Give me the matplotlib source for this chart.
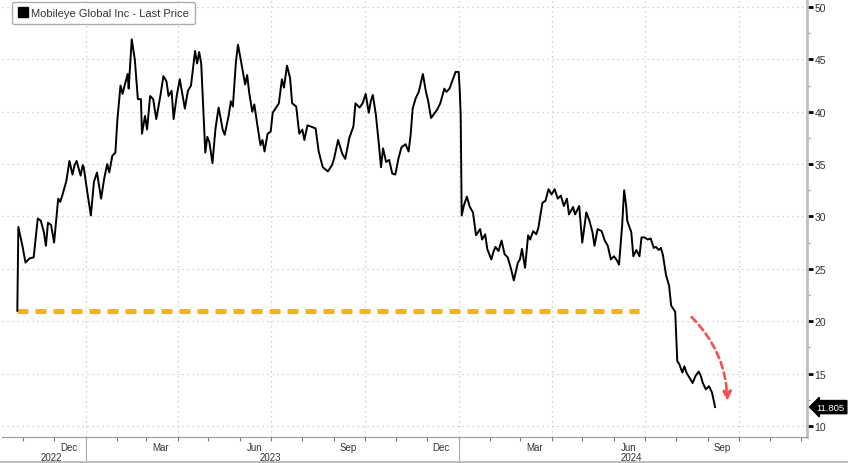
import matplotlib
matplotlib.use("Agg")
import matplotlib.pyplot as plt
import matplotlib.dates as mdates
import matplotlib.transforms as mtransforms
from matplotlib.lines import Line2D
from matplotlib.ticker import MultipleLocator, NullFormatter
import pandas as pd

plt.rcParams['font.family'] = ['Liberation Sans', 'DejaVu Sans']

# Mobileye last price
dates = [
    "2022-10-26", "2022-10-27", "2022-10-31", "2022-11-03", "2022-11-07", "2022-11-11",
    "2022-11-15", "2022-11-18", "2022-11-21", "2022-11-23", "2022-11-25", "2022-11-28",
    "2022-12-01", "2022-12-05", "2022-12-07", "2022-12-09", "2022-12-13", "2022-12-16",
    "2022-12-19", "2022-12-21", "2022-12-23", "2022-12-27", "2022-12-29", "2022-12-30",
    "2023-01-03", "2023-01-06", "2023-01-09", "2023-01-12", "2023-01-16", "2023-01-19",
    "2023-01-22", "2023-01-24", "2023-01-27", "2023-01-30", "2023-02-01", "2023-02-04",
    "2023-02-06", "2023-02-08", "2023-02-11", "2023-02-12", "2023-02-15", "2023-02-18",
    "2023-02-21", "2023-02-24", "2023-02-25", "2023-02-28", "2023-03-02", "2023-03-05",
    "2023-03-08", "2023-03-11", "2023-03-15", "2023-03-18", "2023-03-21", "2023-03-23",
    "2023-03-26", "2023-03-28", "2023-03-31", "2023-04-03", "2023-04-05", "2023-04-08",
    "2023-04-11", "2023-04-14", "2023-04-18", "2023-04-20", "2023-04-22", "2023-04-24",
    "2023-04-28", "2023-04-30", "2023-05-02", "2023-05-05", "2023-05-08", "2023-05-11",
    "2023-05-13", "2023-05-15", "2023-05-17", "2023-05-21", "2023-05-23", "2023-05-25",
    "2023-05-28", "2023-05-30", "2023-06-02", "2023-06-06", "2023-06-08", "2023-06-10",
    "2023-06-13", "2023-06-15", "2023-06-18", "2023-06-21", "2023-06-23", "2023-06-25",
    "2023-06-28", "2023-07-01", "2023-07-03", "2023-07-07", "2023-07-09", "2023-07-12",
    "2023-07-14", "2023-07-17", "2023-07-20", "2023-07-22", "2023-07-26", "2023-07-29",
    "2023-08-01", "2023-08-03", "2023-08-06", "2023-08-09", "2023-08-14", "2023-08-17",
    "2023-08-21", "2023-08-26", "2023-08-30", "2023-09-01", "2023-09-05", "2023-09-09",
    "2023-09-12", "2023-09-16", "2023-09-20", "2023-09-22", "2023-09-26", "2023-09-29",
    "2023-10-02", "2023-10-05", "2023-10-07", "2023-10-09", "2023-10-12", "2023-10-15",
    "2023-10-17", "2023-10-19", "2023-10-22", "2023-10-25", "2023-10-28", "2023-10-31",
    "2023-11-03", "2023-11-06", "2023-11-10", "2023-11-13", "2023-11-15", "2023-11-17",
    "2023-11-20", "2023-11-23", "2023-11-27", "2023-11-30", "2023-12-02", "2023-12-05",
    "2023-12-08", "2023-12-11", "2023-12-14", "2023-12-18", "2023-12-20", "2023-12-23",
    "2023-12-26", "2023-12-29", "2024-01-01", "2024-01-02", "2024-01-03", "2024-01-04",
    "2024-01-06", "2024-01-09", "2024-01-12", "2024-01-15", "2024-01-18", "2024-01-22",
    "2024-01-24", "2024-01-27", "2024-01-29", "2024-02-02", "2024-02-04", "2024-02-06",
    "2024-02-09", "2024-02-12", "2024-02-15", "2024-02-18", "2024-02-21", "2024-02-24",
    "2024-02-28", "2024-03-01", "2024-03-03", "2024-03-06", "2024-03-09", "2024-03-11",
    "2024-03-14", "2024-03-17", "2024-03-19", "2024-03-23", "2024-03-26", "2024-03-29",
    "2024-04-01", "2024-04-04", "2024-04-07", "2024-04-10", "2024-04-13", "2024-04-16",
    "2024-04-18", "2024-04-22", "2024-04-24", "2024-04-28", "2024-05-01", "2024-05-05",
    "2024-05-08", "2024-05-11", "2024-05-13", "2024-05-16", "2024-05-20", "2024-05-23",
    "2024-05-26", "2024-05-29", "2024-06-01", "2024-06-04", "2024-06-06", "2024-06-09",
    "2024-06-11", "2024-06-13", "2024-06-14", "2024-06-18", "2024-06-20", "2024-06-23",
    "2024-06-26", "2024-06-28", "2024-07-01", "2024-07-04", "2024-07-07", "2024-07-10",
    "2024-07-12", "2024-07-15", "2024-07-17", "2024-07-19", "2024-07-22", "2024-07-25",
    "2024-07-27", "2024-07-29", "2024-07-31", "2024-08-02", "2024-08-04", "2024-08-07",
    "2024-08-09", "2024-08-11", "2024-08-14", "2024-08-17", "2024-08-20", "2024-08-23",
    "2024-08-25", "2024-08-27", "2024-08-30", "2024-09-02", "2024-09-05", "2024-09-08",
]
prices = [
    21.0, 29.0, 27.2, 25.6, 26.0, 26.1,
    29.8, 29.6, 28.5, 27.2, 29.4, 29.2,
    27.5, 31.7, 31.4, 32.0, 33.4, 35.3,
    34.0, 34.9, 35.3, 33.9, 34.9, 34.7,
    32.0, 30.1, 33.3, 34.2, 31.7, 33.6,
    35.0, 34.2, 35.8, 36.1, 39.3, 42.5,
    41.7, 42.5, 43.6, 42.2, 46.9, 45.0,
    41.2, 41.2, 37.9, 39.6, 38.3, 41.5,
    41.2, 39.3, 41.5, 43.4, 42.9, 41.5,
    42.0, 39.3, 41.5, 43.1, 42.0, 40.3,
    42.0, 42.5, 45.8, 44.6, 45.7, 44.6,
    36.1, 37.6, 37.1, 35.1, 38.4, 40.4,
    39.4, 38.3, 37.8, 39.7, 41.0, 40.5,
    44.8, 46.4, 44.8, 42.6, 43.5, 41.8,
    40.0, 40.7, 38.7, 36.8, 37.3, 36.2,
    37.9, 38.1, 39.9, 40.5, 40.8, 43.1,
    42.3, 44.4, 43.2, 40.8, 40.5, 37.9,
    38.3, 37.3, 38.7, 38.6, 38.4, 36.2,
    34.7, 34.3, 34.9, 35.5, 37.3, 36.0,
    35.5, 37.5, 38.6, 40.8, 40.4, 40.8,
    41.7, 39.9, 41.0, 41.6, 39.7, 36.8,
    34.7, 36.5, 35.2, 35.4, 34.1, 34.0,
    35.5, 36.6, 36.9, 36.2, 37.8, 40.3,
    41.3, 41.9, 43.6, 41.9, 41.1, 39.4,
    39.8, 40.2, 40.8, 42.2, 41.9, 42.2,
    43.0, 43.8, 43.8, 42.2, 39.7, 30.1,
    31.0, 31.9, 30.9, 30.4, 28.2, 28.8,
    27.8, 28.3, 26.9, 25.9, 26.6, 27.1,
    26.7, 27.7, 26.4, 26.1, 25.1, 23.9,
    25.6, 25.9, 26.9, 25.1, 28.2, 27.8,
    28.6, 28.3, 28.9, 31.3, 31.5, 32.6,
    32.1, 32.6, 31.7, 32.0, 31.0, 31.7,
    30.2, 30.9, 30.2, 31.0, 27.5, 30.4,
    29.6, 28.5, 27.2, 28.8, 28.6, 27.7,
    27.2, 25.9, 26.2, 25.8, 25.4, 29.1,
    32.5, 31.0, 29.6, 28.5, 26.2, 26.8,
    26.2, 28.0, 28.0, 27.8, 27.9, 27.0,
    27.1, 26.8, 27.0, 26.3, 24.4, 23.4,
    21.5, 21.2, 20.9, 16.2, 15.9, 15.1,
    15.7, 15.1, 14.6, 14.1, 14.8, 15.2,
    14.8, 14.1, 13.5, 13.8, 13.2, 11.805,
]

ipo_price = 21.0
ipo_line_dates = ["2022-10-26", "2024-06-26"]
arrow_start = ("2024-08-16", 20.4)
arrow_end = ("2024-09-20", 12.4)
last_price = prices[-1]

x = pd.to_datetime(dates)

fig = plt.figure(figsize=(8.48, 4.64), dpi=100)
ax = fig.add_axes([2 / 848, 26 / 464, 805 / 848, 438 / 464])

ax.plot(x, prices, color="black", linewidth=1.4, zorder=3)

# IPO price line
ax.plot(pd.to_datetime(ipo_line_dates), [ipo_price, ipo_price], color="#ffb300",
        linewidth=3.6, linestyle=(0, (2.2, 1.4)), solid_capstyle="butt",
        dash_capstyle="butt", zorder=2)

# red dashed arrow
ax.annotate("", xy=(pd.Timestamp(arrow_end[0]), arrow_end[1]),
            xytext=(pd.Timestamp(arrow_start[0]), arrow_start[1]),
            arrowprops=dict(arrowstyle="-|>,head_length=0.5,head_width=0.25",
                            color="#f4524a", linewidth=1.9, linestyle=(0, (2.5, 1.6)),
                            connectionstyle="arc3,rad=-0.2", shrinkA=0, shrinkB=0),
            zorder=4)

ax.set_xlim(pd.Timestamp("2022-10-11"), pd.Timestamp("2024-12-07"))
ax.set_ylim(8.95, 50.76)

# y axis on the right
ax.yaxis.tick_right()
ax.yaxis.set_major_locator(MultipleLocator(5))
ax.yaxis.set_minor_locator(MultipleLocator(2.5))
ax.tick_params(axis="y", which="major", length=4, width=2, color="black",
               labelsize=7.5, labelcolor="#333333", pad=1.5)
ax.tick_params(axis="y", which="minor", length=2, width=1, color="#999999")

# x axis: quarter gridlines, month ticks
ax.xaxis.set_major_locator(mdates.MonthLocator(bymonth=[1, 4, 7, 10]))
ax.xaxis.set_minor_locator(mdates.MonthLocator())
ax.xaxis.set_major_formatter(NullFormatter())
ax.tick_params(axis="x", which="both", length=3, width=0.8, color="#777777")

ax.grid(True, which="major", color="#c4c4c4", linestyle=(0, (1, 3)), linewidth=0.9)

for side in ["top", "left"]:
    ax.spines[side].set_visible(False)
ax.spines["right"].set_color("#c0c0c0")
ax.spines["right"].set_linewidth(2)
ax.spines["bottom"].set_color("#999999")
ax.spines["bottom"].set_linewidth(0.8)

trans = mtransforms.blended_transform_factory(ax.transData, ax.transAxes)
for d in pd.date_range("2022-12-01", "2024-09-01", freq="3MS") + pd.Timedelta(days=14):
    ax.text(d, -0.022, d.strftime("%b"), transform=trans, ha="center", va="center",
            fontsize=7, color="#333333")

years = ["2022", "2023", "2024"]
year_centers = ["2022-11-28", "2023-07-01", "2024-06-18"]
for yr, c in zip(years, year_centers):
    ax.text(pd.Timestamp(c), -0.045, yr, transform=trans, ha="center", va="center",
            fontsize=7, color="#333333")
for yr in years[1:]:
    ax.plot([pd.Timestamp(yr + "-01-01")] * 2, [0, -0.06], transform=trans,
            color="#aaaaaa", linewidth=0.8, clip_on=False)

fig.add_artist(Line2D([0, 1], [0.003, 0.003], color="#bbbbbb", linewidth=2))

# last price tag
ytrans = mtransforms.blended_transform_factory(ax.transAxes, ax.transData)
ax.text(1.012, last_price, f"{last_price:.3f}", transform=ytrans, ha="left", va="center",
        fontsize=6.8, color="white",
        bbox=dict(boxstyle="larrow,pad=0.22", fc="black", ec="black"))

handle = Line2D([], [], marker="s", linestyle="none", color="black", markersize=7)
leg = ax.legend([handle], ["Mobileye Global Inc - Last Price"], loc="upper left",
                bbox_to_anchor=(0.012, 0.993), fontsize=8, frameon=True, fancybox=True,
                handletextpad=0.2, handlelength=1.0, borderpad=0.55, borderaxespad=0)
leg.get_frame().set_edgecolor("#999999")
leg.get_frame().set_linewidth(1.0)
for t in leg.get_texts():
    t.set_color("#333333")

fig.savefig("out.png", dpi=100)
